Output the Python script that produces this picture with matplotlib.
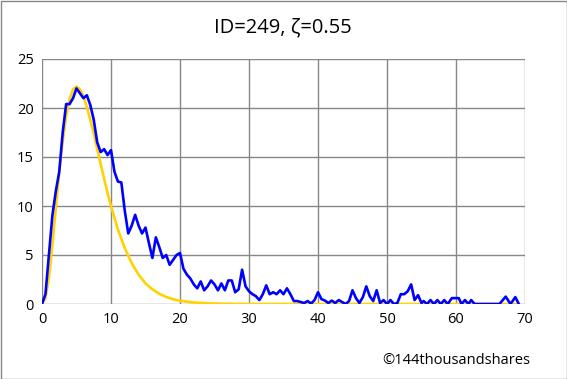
import matplotlib
matplotlib.use("Agg")
import matplotlib.pyplot as plt
from matplotlib.patches import Rectangle

title = "ID=249, ζ=0.55"
credit = "©144thousandshares"

# observed series (blue)
obs_x = [0, 0.5, 1, 1.5, 2, 2.5, 3, 3.5, 4, 4.5, 5, 5.5, 6, 6.5, 7, 7.5, 8, 8.5, 9, 9.5,
         10, 10.5, 11, 11.5, 12, 12.5, 13, 13.5, 14, 14.5, 15, 15.5, 16, 16.5, 17, 17.5, 18, 18.5, 19, 19.5,
         20, 20.5, 21, 21.5, 22, 22.5, 23, 23.5, 24, 24.5, 25, 25.5, 26, 26.5, 27, 27.5, 28, 28.5, 29, 29.5,
         30, 30.5, 31, 31.5, 32, 32.5, 33, 33.5, 34, 34.5, 35, 35.5, 36, 36.5, 37, 37.5, 38, 38.5, 39, 39.5,
         40, 40.5, 41, 41.5, 42, 42.5, 43, 43.5, 44, 44.5, 45, 45.5, 46, 46.5, 47, 47.5, 48, 48.5, 49, 49.5,
         50, 50.5, 51, 51.5, 52, 52.5, 53, 53.5, 54, 54.5, 55, 55.3, 55.8, 56.3, 56.8, 57.3, 57.8, 58.3, 58.8, 59.4,
         59.9, 60.4, 60.8, 61.3, 61.8, 62.2, 62.7, 66.3, 67.2, 67.9, 68.6, 69.1]
obs_y = [0, 1.0, 5.0, 9.0, 11.5, 13.5, 17.5, 20.4, 20.4, 21.0, 22.0, 21.5, 21.0, 21.3, 20.3, 18.8, 16.5, 15.5, 15.8, 15.2,
         15.7, 13.5, 12.5, 12.4, 9.5, 7.2, 8.0, 9.1, 8.0, 7.2, 7.8, 6.2, 4.7, 6.8, 5.8, 4.7, 5.0, 4.0, 4.5, 5.0,
         5.2, 3.6, 3.0, 2.6, 2.0, 1.6, 2.3, 1.4, 1.8, 2.4, 2.0, 1.4, 2.1, 1.4, 2.4, 2.4, 1.2, 1.5, 3.5, 1.8,
         1.3, 1.0, 0.8, 0.4, 1.0, 1.9, 1.0, 1.2, 1.0, 1.4, 1.0, 1.6, 1.0, 0.3, 0.3, 0.2, 0.1, 0.3, 0.05, 0.4,
         1.2, 0.5, 0.35, 0.1, 0.35, 0.1, 0.4, 0.2, 0.0, 0.3, 1.4, 0.6, 0.1, 0.7, 1.8, 0.8, 0.3, 1.4, 0.1, 0.4,
         0.0, 0.4, 0.0, 0.1, 1.0, 1.0, 1.3, 2.0, 0.4, 0.9, 0.1, 0.3, 0.0, 0.4, 0.0, 0.4, 0.0, 0.4, 0.0, 0.6,
         0.6, 0.6, 0.0, 0.4, 0.0, 0.4, 0.0, 0.0, 0.75, 0.0, 0.7, 0.0]

# fitted curve (yellow)
fit_x = [0, 0.5, 1, 1.5, 2, 2.5, 3, 3.5, 4, 4.5, 5, 5.5, 6, 6.5, 7, 7.5, 8, 8.5, 9, 9.5,
         10, 11, 12, 13, 14, 15, 16, 17, 18, 19, 20, 22, 24, 26, 28, 30, 40, 50, 60, 69]
fit_y = [0, 0.58, 2.7, 6.0, 9.75, 13.4, 16.6, 19.2, 20.9, 21.9, 22.2, 21.9, 21.2, 20.1, 18.8, 17.4, 15.8, 14.3, 12.8, 11.3,
         10.0, 7.6, 5.7, 4.16, 3.0, 2.1, 1.5, 1.04, 0.72, 0.49, 0.33, 0.15, 0.07, 0.03, 0.01, 0.005, 0, 0, 0, 0]

x_ticks = [0, 10, 20, 30, 40, 50, 60, 70]
y_ticks = [0, 5, 10, 15, 20, 25]

font = ["Open Sans", "DejaVu Sans"]
plt.rcParams['font.family'] = font

fig = plt.figure(figsize=(5.67, 3.79), dpi=100)
ax = fig.add_axes([42/567, 1-304/379, (525-42)/567, (304-59)/379])

ax.plot(fit_x, fit_y, color="#FFD200", lw=1.9, zorder=3, solid_joinstyle="round")
ax.plot(obs_x, obs_y, color="#0000FF", lw=1.9, zorder=4, solid_joinstyle="round")

ax.set_xlim(0, 70)
ax.set_ylim(0, 25)
ax.set_xticks(x_ticks)
ax.set_yticks(y_ticks)
ax.grid(True, color="#878787", lw=1.0)
ax.set_axisbelow(True)
for s in ax.spines.values():
    s.set_visible(False)
ax.tick_params(length=0, labelsize=10.5, colors="black", pad=6)

fig.text(283/567, 1-28/379, title, ha="center", va="center", fontsize=14.5)
fig.text(530/567, 1-361/379, credit, ha="right", va="center", fontsize=10.5)
fig.patches.append(Rectangle((0.5/567, 0.5/379), 1-1/567, 1-1/379, transform=fig.transFigure,
                             fill=False, edgecolor="#878787", lw=1.0))

fig.savefig("out.png", dpi=100)
